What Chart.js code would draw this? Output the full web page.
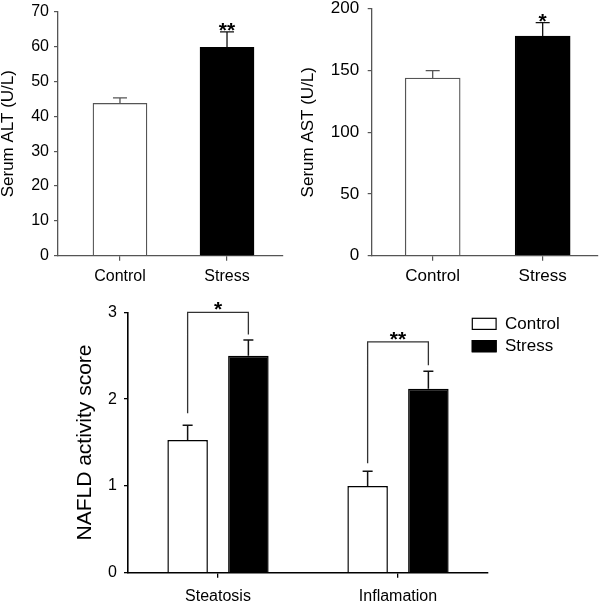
<!DOCTYPE html>
<html><head><meta charset="utf-8">
<script src="https://cdn.jsdelivr.net/npm/chart.js@4"></script>
<style>
html,body{margin:0;padding:0;background:#fff;width:600px;height:604px;overflow:hidden;position:relative}
canvas{position:absolute}
</style></head><body>
<canvas id="c1" width="300" height="310" style="left:0;top:-10px"></canvas>
<canvas id="c2" width="300" height="310" style="left:300px;top:-10px"></canvas>
<canvas id="c3" width="600" height="314" style="left:0;top:290px"></canvas>
<script>
// ---------- data ----------
const groups = ['Control', 'Stress'];
const altMean = [43.7, 59.8];
const altSem = [1.6, 4.4];
const altSig = ['', '**'];
const astMean = [143.9, 177.8];
const astSem = [5.9, 11.0];
const astSig = ['', '*'];
const naflCats = ['Steatosis', 'Inflamation'];
const naflControl = [1.53, 1.00];
const naflControlSem = [0.17, 0.17];
const naflStress = [2.50, 2.12];
const naflStressSem = [0.18, 0.20];
const naflSig = ['*', '**'];
const naflBracketTop = [3.0, 2.66];

// ---------- styling ----------
const FONT = "'Liberation Sans', Arial, sans-serif";
Chart.defaults.font.family = FONT;
Chart.defaults.color = '#000';
Chart.defaults.animation = false;

const errorBarPlugin = {
  id: 'errbars',
  afterDatasetsDraw(chart, args, opts) {
    const ctx = chart.ctx, ys = chart.scales.y;
    chart.data.datasets.forEach((ds, di) => {
      const meta = chart.getDatasetMeta(di);
      meta.data.forEach((el, i) => {
        const raw = ds.data[i];
        const val = (typeof raw === 'object') ? raw.y : raw;
        const top = ys.getPixelForValue(val + ds.errors[i]);
        const col = Array.isArray(ds.errorColor) ? ds.errorColor[i] : ds.errorColor;
        ctx.save();
        ctx.strokeStyle = col; ctx.lineWidth = opts.lineWidth;
        ctx.beginPath();
        ctx.moveTo(el.x, el.y); ctx.lineTo(el.x, top);
        ctx.moveTo(el.x - opts.cap / 2, top); ctx.lineTo(el.x + opts.cap / 2, top);
        ctx.stroke();
        ctx.restore();
      });
    });
  }
};

const starPlugin = {
  id: 'stars',
  afterDatasetsDraw(chart, args, opts) {
    if (!opts.labels) return;
    const ctx = chart.ctx, ys = chart.scales.y;
    const ds = chart.data.datasets[0];
    const meta = chart.getDatasetMeta(0);
    meta.data.forEach((el, i) => {
      const lab = opts.labels[i];
      if (!lab) return;
      const top = ys.getPixelForValue(ds.data[i].y + ds.errors[i]);
      ctx.save();
      ctx.font = opts.font; ctx.fillStyle = '#000';
      ctx.textAlign = 'center'; ctx.textBaseline = 'alphabetic';
      ctx.fillText(lab, el.x, top - opts.gap + opts.size * 0.57);
      ctx.restore();
    });
  }
};

function topChart(id, means, sems, sig, yMax, yStep, yTitle, geom) {
  return new Chart(document.getElementById(id), {
    type: 'bar',
    data: {
      datasets: [{
        data: groups.map((g, i) => ({ x: i, y: means[i] })),
        errors: sems,
        backgroundColor: ['#ffffff', '#000000'],
        borderColor: [geom.line, '#000000'],
        borderWidth: 1.3,
        errorColor: [geom.line, '#111111'],
        barThickness: geom.barW
      }]
    },
    options: {
      responsive: false,
      devicePixelRatio: 1,
      layout: { padding: { left: 0, right: geom.padR, top: geom.padT, bottom: 0 } },
      plugins: {
        legend: { display: false }, tooltip: { enabled: false },
        errbars: { lineWidth: 1.3, cap: 14 },
        stars: { labels: sig, font: 'bold 21px ' + FONT, size: 21, gap: 7 }
      },
      scales: {
        x: {
          type: 'linear', min: geom.xMin, max: geom.xMax, offset: false, bounds: 'data',
          afterBuildTicks: (s) => { s.ticks = groups.map((g, i) => ({ value: i })); },
          afterFit: (s) => { s.height = geom.xH; },
          ticks: { callback: (v) => groups[v], font: { size: geom.fs }, padding: geom.xPad, maxRotation: 0, autoSkip: false },
          grid: { display: true, drawOnChartArea: false, drawTicks: true, tickLength: 5, color: geom.line, lineWidth: 1.2, offset: false },
          border: { display: true, color: geom.line, width: 1.3 }
        },
        y: {
          min: 0, max: yMax,
          afterFit: (s) => { s.width = geom.yW; },
          ticks: { stepSize: yStep, font: { size: geom.fs }, padding: geom.yPad },
          grid: { display: true, drawOnChartArea: false, drawTicks: true, tickLength: 4, color: geom.line, lineWidth: 1.2 },
          border: { display: true, color: geom.line, width: 1.3 },
          title: { display: true, text: yTitle, font: { size: 17, lineHeight: 1 }, padding: { top: 0, bottom: 0 } }
        }
      }
    },
    plugins: [errorBarPlugin, starPlugin]
  });
}

topChart('c1', altMean, altSem, altSig, 70, 10, 'Serum ALT (U/L)', {
  line: '#555555', barW: 54, padR: 17, padT: 21.7, xH: 44.3, yW: 58,
  xMin: -0.579, xMax: 1.523, fs: 16, xPad: 6.4, yPad: 5
});
topChart('c2', astMean, astSem, astSig, 200, 50, 'Serum AST (U/L)', {
  line: '#555555', barW: 55, padR: 2, padT: 16, xH: 44.3, yW: 71.7,
  xMin: -0.5545, xMax: 1.503, fs: 17, xPad: 5.8, yPad: 8.5
});

// ---------- bottom chart ----------
const bracketPlugin = {
  id: 'brackets',
  afterDatasetsDraw(chart, args, opts) {
    const ctx = chart.ctx, ys = chart.scales.y;
    const m0 = chart.getDatasetMeta(0), m1 = chart.getDatasetMeta(1);
    const d0 = chart.data.datasets[0], d1 = chart.data.datasets[1];
    naflCats.forEach((c, i) => {
      const x0 = m0.data[i].x, x1 = m1.data[i].x;
      const t0 = ys.getPixelForValue(d0.data[i] + d0.errors[i]) - opts.gapL[i];
      const t1 = ys.getPixelForValue(d1.data[i] + d1.errors[i]) - opts.gapR[i];
      const yb = ys.getPixelForValue(naflBracketTop[i]);
      ctx.save();
      ctx.strokeStyle = '#333'; ctx.lineWidth = 1.3;
      ctx.beginPath();
      ctx.moveTo(x0, t0); ctx.lineTo(x0, yb); ctx.lineTo(x1, yb); ctx.lineTo(x1, t1);
      ctx.stroke();
      ctx.font = 'bold 21px ' + FONT; ctx.fillStyle = '#000';
      ctx.textAlign = 'center'; ctx.textBaseline = 'alphabetic';
      ctx.fillText(naflSig[i], (x0 + x1) / 2, yb - 8 + 21 * 0.57);
      ctx.restore();
    });
  }
};

const legendPlugin = {
  id: 'customLegend',
  afterDraw(chart, args, opts) {
    const ctx = chart.ctx;
    chart.data.datasets.forEach((ds, i) => {
      const by = opts.y + i * opts.step;
      ctx.save();
      ctx.fillStyle = ds.backgroundColor; ctx.strokeStyle = '#000'; ctx.lineWidth = 1.2;
      ctx.fillRect(opts.x, by, 25, 12.3);
      ctx.strokeRect(opts.x + 0.6, by + 0.6, 23.8, 11.1);
      ctx.fillStyle = '#000'; ctx.font = '17px ' + FONT;
      ctx.textAlign = 'left'; ctx.textBaseline = 'middle';
      ctx.fillText(ds.label, opts.x + 33.3, by + 6.8);
      ctx.restore();
    });
  }
};

new Chart(document.getElementById('c3'), {
  type: 'bar',
  data: {
    labels: naflCats,
    datasets: [
      { label: 'Control', data: naflControl, errors: naflControlSem, backgroundColor: '#ffffff', borderColor: '#000000', borderWidth: 1.5, errorColor: '#111111' },
      { label: 'Stress', data: naflStress, errors: naflStressSem, backgroundColor: '#000000', borderColor: '#000000', borderWidth: 1.5, errorColor: '#111111' }
    ]
  },
  options: {
    responsive: false,
    devicePixelRatio: 1,
    categoryPercentage: 0.675,
    barPercentage: 0.667,
    layout: { padding: { left: 0, right: 112, top: 22.3, bottom: 0 } },
    plugins: {
      legend: { display: false }, tooltip: { enabled: false },
      errbars: { lineWidth: 1.5, cap: 10 },
      brackets: { gapL: [12, 8], gapR: [5.5, 6] },
      customLegend: { x: 471.7, y: 27.7, step: 22.3 }
    },
    scales: {
      x: {
        afterFit: (s) => { s.height = 31.3; },
        ticks: { font: { size: 16 }, padding: 9.4, maxRotation: 0 },
        grid: { display: true, drawOnChartArea: false, drawTicks: true, tickLength: 5, color: '#000', lineWidth: 1.3, offset: false },
        border: { display: true, color: '#000', width: 1.6 }
      },
      y: {
        min: 0, max: 3,
        afterFit: (s) => { s.width = 128; },
        ticks: { stepSize: 1, font: { size: 16 }, padding: 7 },
        grid: { display: true, drawOnChartArea: false, drawTicks: true, tickLength: 4, color: '#000', lineWidth: 1.3 },
        border: { display: true, color: '#000', width: 1.6 },
        title: { display: true, text: 'NAFLD activity score', font: { size: 21, lineHeight: 1.2 }, padding: { top: 72.4, bottom: 0 } }
      }
    }
  },
  plugins: [errorBarPlugin, bracketPlugin, legendPlugin]
});
</script>
</body></html>
